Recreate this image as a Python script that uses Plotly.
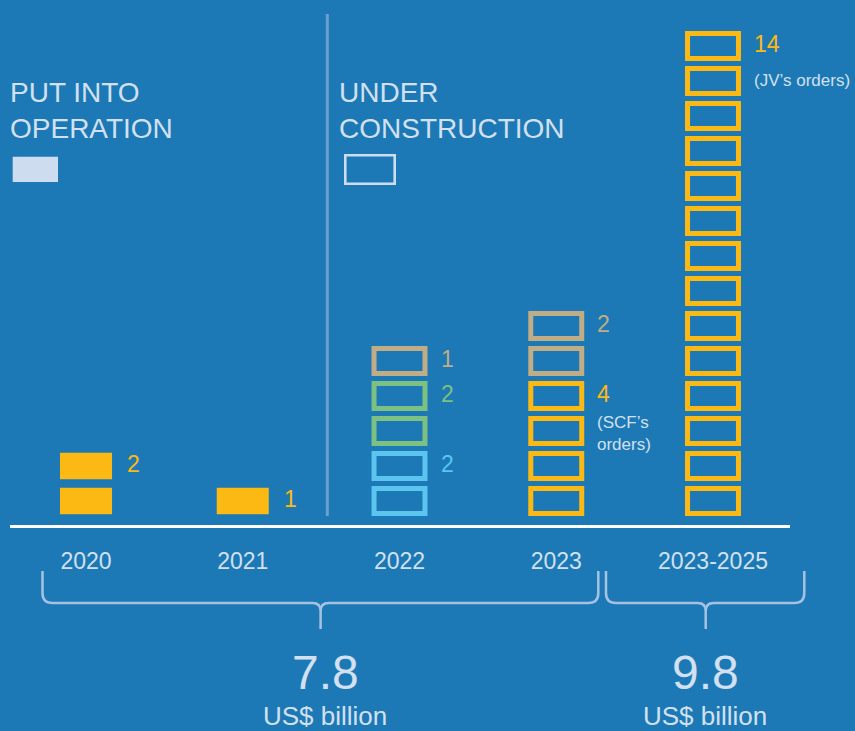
import plotly.graph_objects as go

# ---------------- data ----------------
categories = ["2020", "2021", "2022", "2023", "2023-2025"]

in_operation = [2, 1, 0, 0, 0]          # filled yellow
uc_blue      = [0, 0, 2, 0, 0]          # outlined blue
uc_green     = [0, 0, 2, 0, 0]          # outlined green
uc_yellow    = [0, 0, 0, 4, 14]         # outlined yellow
uc_tan       = [0, 0, 1, 2, 0]          # outlined tan

notes = {("uc_yellow", "2023"): "(SCF’s<br>orders)",
         ("uc_yellow", "2023-2025"): "(JV’s orders)"}

totals_values = [7.8, 9.8]
totals_unit = "US$ billion"

legend_labels = ["PUT INTO<br>OPERATION", "UNDER<br>CONSTRUCTION"]

# ---------------- style ----------------
W, H = 855, 731
BG = "#1c79b5"
LIGHT = "#d3e0f0"
YELLOW = "#fdb913"
BLUE = "#5bc5f0"
GREEN = "#7cc182"
TAN = "#c0ad86"
FONT = "Liberation Sans"

series = [  # (key, counts, color, filled)
    ("in_operation", in_operation, YELLOW, True),
    ("uc_blue", uc_blue, BLUE, False),
    ("uc_green", uc_green, GREEN, False),
    ("uc_yellow", uc_yellow, YELLOW, False),
    ("uc_tan", uc_tan, TAN, False),
]

CENTER0 = 0.70          # centre of first unit above the baseline (units)
FILL_H, FILL_W = 0.763, 0.332
OUT_H, OUT_W = 0.714, 0.325
OUT_LW = 5

X_LEFT, X_RIGHT = -0.4849, 4.4912
Y_RANGE = [-205.5 / 35, 525.5 / 35]


def px(x):
    return x / W


def py(y):
    return 1 - y / H


fig = go.Figure()
annotations = []
stack = {c: 0 for c in categories}

for key, counts, color, filled in series:
    xs, bases, hs = [], [], []
    for ci, (cat, n) in enumerate(zip(categories, counts)):
        if n == 0:
            continue
        start = stack[cat]
        h = FILL_H if filled else OUT_H
        for i in range(start, start + n):
            xs.append(cat)
            bases.append(CENTER0 + i - h / 2)
            hs.append(h)
        stack[cat] = start + n
        top_center = CENTER0 + start + n - 1
        annotations.append(dict(
            x=ci, y=top_center, xref="x", yref="y", text=str(n),
            xanchor="left", yanchor="middle", xshift=39, yshift=2,
            showarrow=False, font=dict(family=FONT, size=23, color=color)))
        note = notes.get((key, cat))
        if note:
            two = "<br>" in note
            annotations.append(dict(
                x=ci, y=top_center, xref="x", yref="y", text=note,
                xanchor="left", yanchor="top", align="left",
                xshift=39, yshift=-15 if two else -23,
                showarrow=False, font=dict(family=FONT, size=17, color=LIGHT)))
    if filled:
        marker = dict(color=color, line=dict(width=0))
        width = FILL_W
    else:
        marker = dict(color="rgba(0,0,0,0)", line=dict(color=color, width=OUT_LW))
        width = OUT_W
    fig.add_trace(go.Bar(x=xs, y=hs, base=bases, width=width, marker=marker,
                         hoverinfo="skip", showlegend=False))

# legend labels
annotations.append(dict(x=px(8), y=py(75), xref="paper", yref="paper",
                        text=legend_labels[0], xanchor="left", yanchor="top",
                        align="left", showarrow=False,
                        font=dict(family=FONT, size=28, color=LIGHT)))
annotations.append(dict(x=px(337), y=py(75), xref="paper", yref="paper",
                        text=legend_labels[1], xanchor="left", yanchor="top",
                        align="left", showarrow=False,
                        font=dict(family=FONT, size=28, color=LIGHT)))

# totals
tot_x = [325, 705]
for v, xc in zip(totals_values, tot_x):
    annotations.append(dict(x=px(xc), y=py(672), xref="paper", yref="paper",
                            text=f"{v}", xanchor="center", yanchor="middle",
                            showarrow=False,
                            font=dict(family=FONT, size=48, color=LIGHT)))
    annotations.append(dict(x=px(xc), y=py(716), xref="paper", yref="paper",
                            text=totals_unit, xanchor="center", yanchor="middle",
                            showarrow=False,
                            font=dict(family=FONT, size=26, color=LIGHT)))

shapes = []
# legend swatches
shapes.append(dict(type="rect", xref="paper", yref="paper",
                   x0=px(12.7), x1=px(58), y0=py(182), y1=py(156.7),
                   fillcolor="#cddcef", line=dict(width=0)))
shapes.append(dict(type="rect", xref="paper", yref="paper",
                   x0=px(345.3), x1=px(394.7), y0=py(183.7), y1=py(155.3),
                   fillcolor="rgba(0,0,0,0)", line=dict(color="#cddcef", width=2.6)))
# divider
shapes.append(dict(type="line", xref="paper", yref="paper",
                   x0=px(327.3), x1=px(327.3), y0=py(14), y1=py(516),
                   line=dict(color="#6c9fd1", width=3)))


def brace(xl, xm, xr, top=571, bot=603, tip=629, r=10, f=8):
    pts = [("M", xl, top), ("L", xl, bot - r), ("Q", xl, bot, xl + r, bot),
           ("L", xm - f, bot), ("Q", xm, bot, xm, bot + f), ("L", xm, tip),
           ("M", xm, bot + f), ("Q", xm, bot, xm + f, bot),
           ("L", xr - r, bot), ("Q", xr, bot, xr, bot - r), ("L", xr, top)]
    out = []
    for p in pts:
        cmd, vals = p[0], p[1:]
        coords = []
        for i in range(0, len(vals), 2):
            coords.append(f"{px(vals[i]):.5f},{py(vals[i+1]):.5f}")
        out.append(cmd + " ".join(coords))
    return " ".join(out)


for xl, xm, xr in [(42.5, 320.6, 598.3), (606, 705.7, 804.3)]:
    shapes.append(dict(type="path", xref="paper", yref="paper",
                       path=brace(xl, xm, xr),
                       line=dict(color="#a6c2e3", width=2.5)))

fig.update_layout(
    width=W, height=H,
    margin=dict(l=0, r=0, t=0, b=0),
    paper_bgcolor=BG, plot_bgcolor=BG,
    barmode="overlay",
    showlegend=False,
    xaxis=dict(domain=[10 / W, 790 / W], range=[X_LEFT, X_RIGHT],
               type="category", categoryorder="array", categoryarray=categories,
               anchor="free", position=(H - 525.5) / H,
               showline=True, linecolor="white", linewidth=3,
               showgrid=False, zeroline=False, ticks="",
               ticklabelstandoff=14,
               tickfont=dict(family=FONT, size=23, color=LIGHT), fixedrange=True),
    yaxis=dict(range=Y_RANGE, visible=False, fixedrange=True),
    annotations=annotations,
    shapes=shapes,
)

fig.write_html(
    "out.html",
    config={"displayModeBar": False},
    post_script="document.body.style.margin='0';document.body.style.overflow='hidden';"
                "document.body.style.background='" + BG + "';",
)
